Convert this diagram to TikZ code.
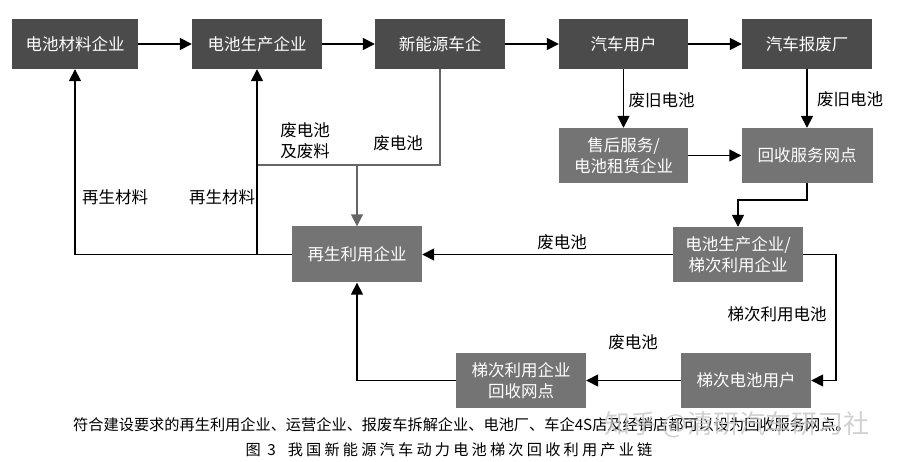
\documentclass[tikz,border=0pt]{standalone}
\usepackage{fontspec}
\setmainfont{Noto Sans CJK SC}
\newfontfamily\capfont[LetterSpace=21]{Noto Sans CJK SC}
\usetikzlibrary{arrows.meta}
\definecolor{boxdark}{HTML}{4B4B4B}
\definecolor{boxmid}{HTML}{747474}
\definecolor{lgray}{HTML}{666666}
\tikzset{
  bx/.style={rectangle, text=white, inner sep=0pt, align=center,
    font=\fontsize{16.5}{21}\selectfont},
  dk/.style={bx, fill=boxdark},
  md/.style={bx, fill=boxmid},
  arr/.style={line width=1.6pt, -{Triangle[length=12pt,width=12pt]}},
  ln/.style={line width=1.6pt},
  lab/.style={font=\fontsize{16.5}{21}\selectfont, inner sep=0pt, align=left}
}
\begin{document}
\begin{tikzpicture}[x=1pt,y=-1pt]
\useasboundingbox (0,0) rectangle (897,462);
% top row
\node[dk, minimum width=126pt, minimum height=50pt] (m1) at (75,44) {电池材料企业};
\node[dk, minimum width=130pt, minimum height=50pt] (m2) at (257,44) {电池生产企业};
\node[dk, minimum width=130pt, minimum height=50pt] (m3) at (440,44) {新能源车企};
\node[dk, minimum width=129pt, minimum height=50pt] (m4) at (623.5,44) {汽车用户};
\node[dk, minimum width=130pt, minimum height=50pt] (m5) at (807,44) {汽车报废厂};
% middle
\node[md, minimum width=129pt, minimum height=55pt] (s1) at (623.5,155.5) {售后服务/\\电池租赁企业};
\node[md, minimum width=131pt, minimum height=55pt] (s2) at (807,155.5) {回收服务网点};
\node[md, minimum width=130pt, minimum height=55pt] (s3) at (738,254.5) {电池生产企业/\\梯次利用企业};
\node[md, minimum width=130pt, minimum height=56pt] (r) at (357,254.5) {再生利用企业};
\node[md, minimum width=130pt, minimum height=55pt] (u) at (746,380.5) {梯次电池用户};
\node[md, minimum width=130pt, minimum height=55pt] (g) at (521,380.5) {梯次利用企业\\回收网点};
% coordinates
\coordinate (c1) at (807,200);
\coordinate (gj) at (257,165);
\coordinate (gd) at (357,165);
\coordinate (rj) at (257,254.5);
\coordinate (rr) at (836,254.5);
% top arrows
\draw[arr] (m1) -- (m2);
\draw[arr] (m2) -- (m3);
\draw[arr] (m3) -- (m4);
\draw[arr] (m4) -- (m5);
\draw[arr] (m4) -- (s1);
\draw[arr] (m5) -- (s2);
\draw[arr] (s1) -- (s2);
\draw[arr] (s2.south) -- (c1) -| (s3.north);
% gray from new energy car enterprise
\draw[ln, lgray] (m3.south) |- (gj);
\draw[arr, lgray] (gd) -- (r.north);
% regenerated materials
\draw[arr] (r.west) -| (m1.south);
\draw[arr] (rj) -- (m2.south);
% lower loop
\draw[arr] (s3.west) -- (r.east);
\draw[arr] (s3.east) -- (rr) |- (u.east);
\draw[arr] (u.west) -- (g.east);
\draw[arr] (g.west) -| (r.south);
% labels
\node[lab] (l1) at (661.5,100) {废旧电池};
\node[lab] (l2) at (850,99) {废旧电池};
\node[lab] (l3) at (305,141) {废电池\\及废料};
\node[lab] (l4) at (398,143) {废电池};
\node[lab] (l5) at (115,197) {再生材料};
\node[lab] (l6) at (222,197) {再生材料};
\node[lab] (l7) at (562,242) {废电池};
\node[lab] (l8) at (777,314) {梯次利用电池};
\node[lab] (l9) at (633,342) {废电池};
% caption
\node[anchor=west, inner sep=0pt, font=\fontsize{15.2}{18}\selectfont] (cap1) at (73,425) {符合建设要求的再生利用企业、运营企业、报废车拆解企业、电池厂、车企4S店及经销店都可以设为回收服务网点。};
\node[inner sep=0pt, font=\fontsize{15.2}{18}\capfont] (cap2) at (449,450) {图 3\hspace{12pt}我国新能源汽车动力电池梯次回收利用产业链};
% watermark
\node[inner sep=0pt, text=gray!45, opacity=0.8, font=\fontsize{26}{30}\selectfont] (wm) at (737,425) {知乎 @清研汽车研习社};
\end{tikzpicture}
\end{document}
